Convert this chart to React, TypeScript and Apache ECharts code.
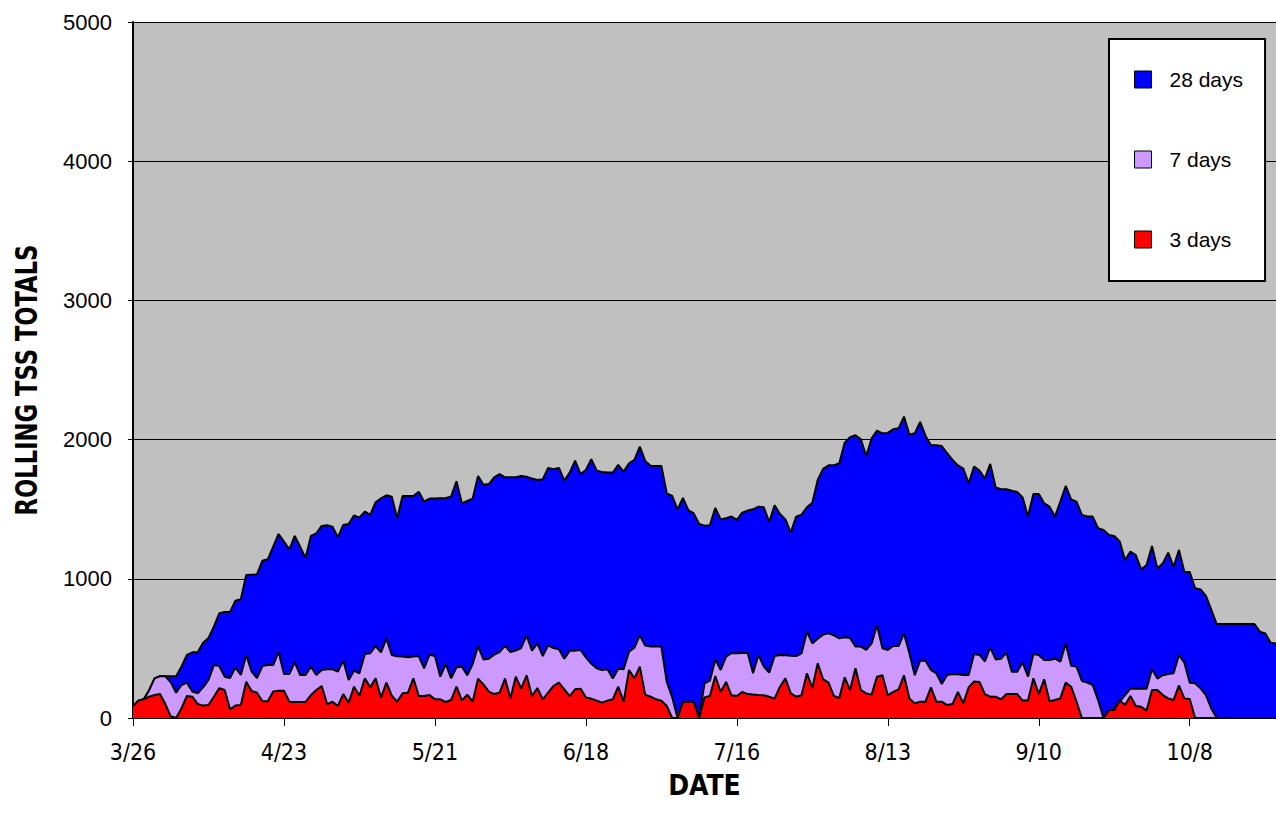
import React, { useEffect, useRef } from "react";
import * as echarts from "echarts";

// Tick labels shown on the date axis (every 28 days)
const TICK_LABELS = ["3/26", "4/23", "5/21", "6/18", "7/16", "8/13", "9/10", "10/8"];
const START_MONTH = 3; // March
const START_DAY = 26;

const SERIES_NAMES = ["28 days", "7 days", "3 days"];
const SERIES_COLORS = ["#0000FF", "#CC99FF", "#FF0000"];
const Y_TITLE = "ROLLING TSS TOTALS";
const X_TITLE = "DATE";

// Rolling 28-day TSS totals, daily from 3/26
const DAYS_28 = [
  86, 125, 134, 200, 285, 300, 300, 300, 300, 370,
  453, 472, 472, 541, 575, 656, 752, 762, 762, 843,
  853, 1027, 1030, 1032, 1130, 1140, 1231, 1322, 1267, 1212,
  1308, 1231, 1150, 1308, 1327, 1380, 1384, 1375, 1298, 1387,
  1394, 1456, 1440, 1482, 1459, 1550, 1578, 1600, 1590, 1435,
  1595, 1595, 1595, 1626, 1554, 1576, 1576, 1578, 1580, 1590,
  1700, 1542, 1559, 1576, 1739, 1676, 1681, 1729, 1753, 1729,
  1729, 1729, 1739, 1734, 1720, 1710, 1715, 1796, 1787, 1796,
  1705, 1763, 1849, 1753, 1782, 1860, 1777, 1768, 1763, 1763,
  1818, 1770, 1830, 1854, 1950, 1847, 1813, 1811, 1811, 1614,
  1595, 1499, 1581, 1494, 1470, 1394, 1382, 1384, 1509, 1427,
  1435, 1447, 1423, 1475, 1490, 1499, 1518, 1514, 1408, 1528,
  1466, 1427, 1332, 1447, 1461, 1514, 1547, 1710, 1790, 1815,
  1815, 1830, 1978, 2017, 2031, 2002, 1882, 2010, 2064, 2045,
  2048, 2074, 2081, 2165, 2036, 2045, 2127, 2026, 1959, 1959,
  1954, 1902, 1854, 1815, 1791, 1686, 1806, 1777, 1720, 1825,
  1657, 1643, 1643, 1633, 1624, 1585, 1447, 1610, 1610, 1542,
  1518, 1447, 1554, 1667, 1571, 1554, 1459, 1447, 1447, 1363,
  1351, 1315, 1308, 1269, 1135, 1195, 1171, 1068, 1099, 1236,
  1075, 1111, 1188, 1087, 1207, 1051, 1049, 932, 924, 877,
  776, 675, 675, 675, 675, 675, 675, 675, 675, 620,
  608, 541, 536,
];

// Rolling 7-day TSS totals
const DAYS_7 = [
  86, 125, 134, 200, 285, 300, 300, 256, 182, 237,
  254, 190, 177, 220, 273, 380, 373, 297, 287, 364,
  309, 453, 333, 287, 373, 380, 380, 476, 316, 316,
  400, 309, 309, 369, 309, 345, 350, 350, 333, 412,
  273, 340, 321, 460, 465, 517, 472, 572, 453, 443,
  441, 436, 441, 445, 357, 455, 445, 297, 388, 285,
  364, 369, 307, 388, 517, 421, 426, 455, 474, 520,
  474, 484, 503, 594, 484, 536, 445, 522, 503, 493,
  426, 484, 484, 489, 436, 390, 357, 345, 350, 283,
  354, 350, 477, 505, 594, 520, 513, 513, 513, 259,
  150, 0, 117, 117, 117, 0, 249, 268, 421, 345,
  441, 465, 465, 467, 469, 321, 453, 369, 326, 445,
  453, 450, 448, 445, 465, 620, 536, 570, 599, 608,
  594, 572, 580, 575, 513, 513, 489, 536, 668, 501,
  489, 517, 517, 608, 465, 307, 412, 412, 345, 321,
  244, 309, 316, 314, 309, 309, 460, 453, 407, 508,
  421, 426, 469, 333, 333, 398, 297, 460, 453, 417,
  417, 426, 405, 536, 376, 369, 266, 254, 237, 129,
  0, 45, 69, 117, 165, 211, 211, 211, 211, 350,
  283, 307, 316, 321, 453, 398, 254, 249, 213, 165,
  69, 0, 0, 0, 0, 0, 0, 0, 0, 0,
  0, 0, 0,
];

// Rolling 3-day TSS totals
const DAYS_3 = [
  86, 125, 134, 153, 165, 172, 100, 12, 0, 70,
  158, 153, 100, 89, 93, 153, 215, 201, 62, 89,
  93, 261, 194, 182, 120, 120, 190, 196, 196, 117,
  115, 115, 115, 165, 201, 230, 100, 117, 86, 172,
  110, 225, 160, 285, 220, 285, 146, 254, 160, 117,
  177, 182, 285, 158, 158, 165, 134, 134, 115, 129,
  225, 127, 168, 117, 283, 242, 189, 172, 182, 283,
  141, 297, 211, 307, 158, 216, 134, 182, 230, 254,
  206, 158, 206, 211, 148, 138, 125, 110, 125, 134,
  225, 117, 345, 285, 369, 168, 153, 134, 125, 86,
  0, 0, 117, 117, 117, 0, 148, 158, 302, 187,
  259, 163, 158, 187, 172, 168, 165, 163, 153, 139,
  225, 285, 177, 153, 163, 321, 216, 393, 278, 254,
  158, 144, 292, 201, 357, 201, 177, 168, 297, 307,
  163, 187, 206, 307, 141, 105, 117, 117, 220, 117,
  117, 93, 100, 187, 105, 220, 263, 259, 172, 153,
  153, 134, 172, 172, 172, 125, 125, 285, 172, 278,
  120, 129, 141, 254, 225, 117, 0, 0, 0, 0,
  0, 57, 57, 125, 93, 158, 86, 81, 53, 201,
  201, 165, 141, 129, 235, 141, 137, 0, 0, 0,
  0, 0, 0, 0, 0, 0, 0, 0, 0, 0,
  0, 0, 0,
];

function buildDates(count: number): string[] {
  const out: string[] = [];
  const d = new Date(2001, START_MONTH - 1, START_DAY);
  for (let i = 0; i < count; i++) {
    out.push(`${d.getMonth() + 1}/${d.getDate()}`);
    d.setDate(d.getDate() + 1);
  }
  return out;
}

const NARROW = "'Liberation Sans Narrow', 'DejaVu Sans Condensed', 'Arial Narrow', sans-serif";
const SANS = "'Liberation Sans', Arial, sans-serif";

export default function App() {
  const ref = useRef<HTMLDivElement>(null);

  useEffect(() => {
    if (!ref.current) return;
    const chart = echarts.init(ref.current, undefined, { renderer: "svg" });
    const dates = buildDates(DAYS_28.length);
    const showTick = (_i: number, value: string) => TICK_LABELS.includes(value);
    const values = [DAYS_28, DAYS_7, DAYS_3];

    chart.setOption({
      animation: false,
      backgroundColor: "#FFFFFF",
      grid: {
        left: 133,
        right: 0,
        top: 22,
        bottom: 105,
        show: true,
        backgroundColor: "#C0C0C0",
        borderWidth: 0,
      },
      graphic: [
        {
          type: "text",
          x: 27,
          y: 380,
          rotation: Math.PI / 2,
          scaleX: 0.84,
          style: {
            text: Y_TITLE,
            font: `bold 30px ${NARROW}`,
            fill: "#000000",
            textAlign: "center",
            textVerticalAlign: "middle",
          },
          silent: true,
        },
      ],
      legend: {
        data: SERIES_NAMES,
        orient: "vertical",
        left: 1109,
        top: 39,
        icon: "rect",
        itemWidth: 17,
        itemHeight: 17,
        itemGap: 59,
        backgroundColor: "#FFFFFF",
        borderColor: "#000000",
        borderWidth: 2,
        padding: [30, 22, 31, 25],
        selectedMode: false,
        itemStyle: { borderColor: "#000000", borderWidth: 1 },
        textStyle: {
          fontFamily: SANS,
          fontSize: 21,
          color: "#000000",
          padding: [0, 0, 0, 13],
        },
      },
      xAxis: {
        type: "category",
        data: dates,
        boundaryGap: false,
        axisLine: { show: true, lineStyle: { color: "#000000", width: 2 } },
        axisTick: { show: true, interval: showTick, length: 8, lineStyle: { color: "#000000", width: 1 } },
        axisLabel: {
          interval: showTick,
          fontFamily: NARROW,
          fontSize: 23,
          color: "#000000",
          margin: 22,
        },
        splitLine: { show: false },
        name: X_TITLE,
        nameLocation: "middle",
        nameGap: 53,
        nameTextStyle: { fontFamily: NARROW, fontWeight: "bold", fontSize: 28, color: "#000000" },
      },
      yAxis: {
        type: "value",
        min: 0,
        max: 5000,
        interval: 1000,
        axisLine: { show: true, lineStyle: { color: "#000000", width: 2 } },
        axisTick: { show: true, length: 5, lineStyle: { color: "#000000", width: 1 } },
        axisLabel: {
          fontFamily: SANS,
          fontSize: 22,
          color: "#000000",
          margin: 21,
          formatter: (v: number) => String(v),
        },
        splitLine: { show: true, lineStyle: { color: "#000000", width: 1 } },
      },
      series: SERIES_NAMES.map((name, i) => ({
        name,
        type: "line",
        data: values[i],
        symbol: "none",
        showSymbol: false,
        smooth: false,
        silent: true,
        color: SERIES_COLORS[i],
        itemStyle: { color: SERIES_COLORS[i] },
        lineStyle: { color: "#000000", width: 2 },
        areaStyle: { color: SERIES_COLORS[i], opacity: 1 },
        emphasis: { disabled: true },
        z: 2 + i,
      })),
    });

    return () => chart.dispose();
  }, []);

  return (
    <div
      ref={ref}
      style={{ position: "absolute", left: 0, top: 0, width: 1276, height: 823 }}
    />
  );
}
